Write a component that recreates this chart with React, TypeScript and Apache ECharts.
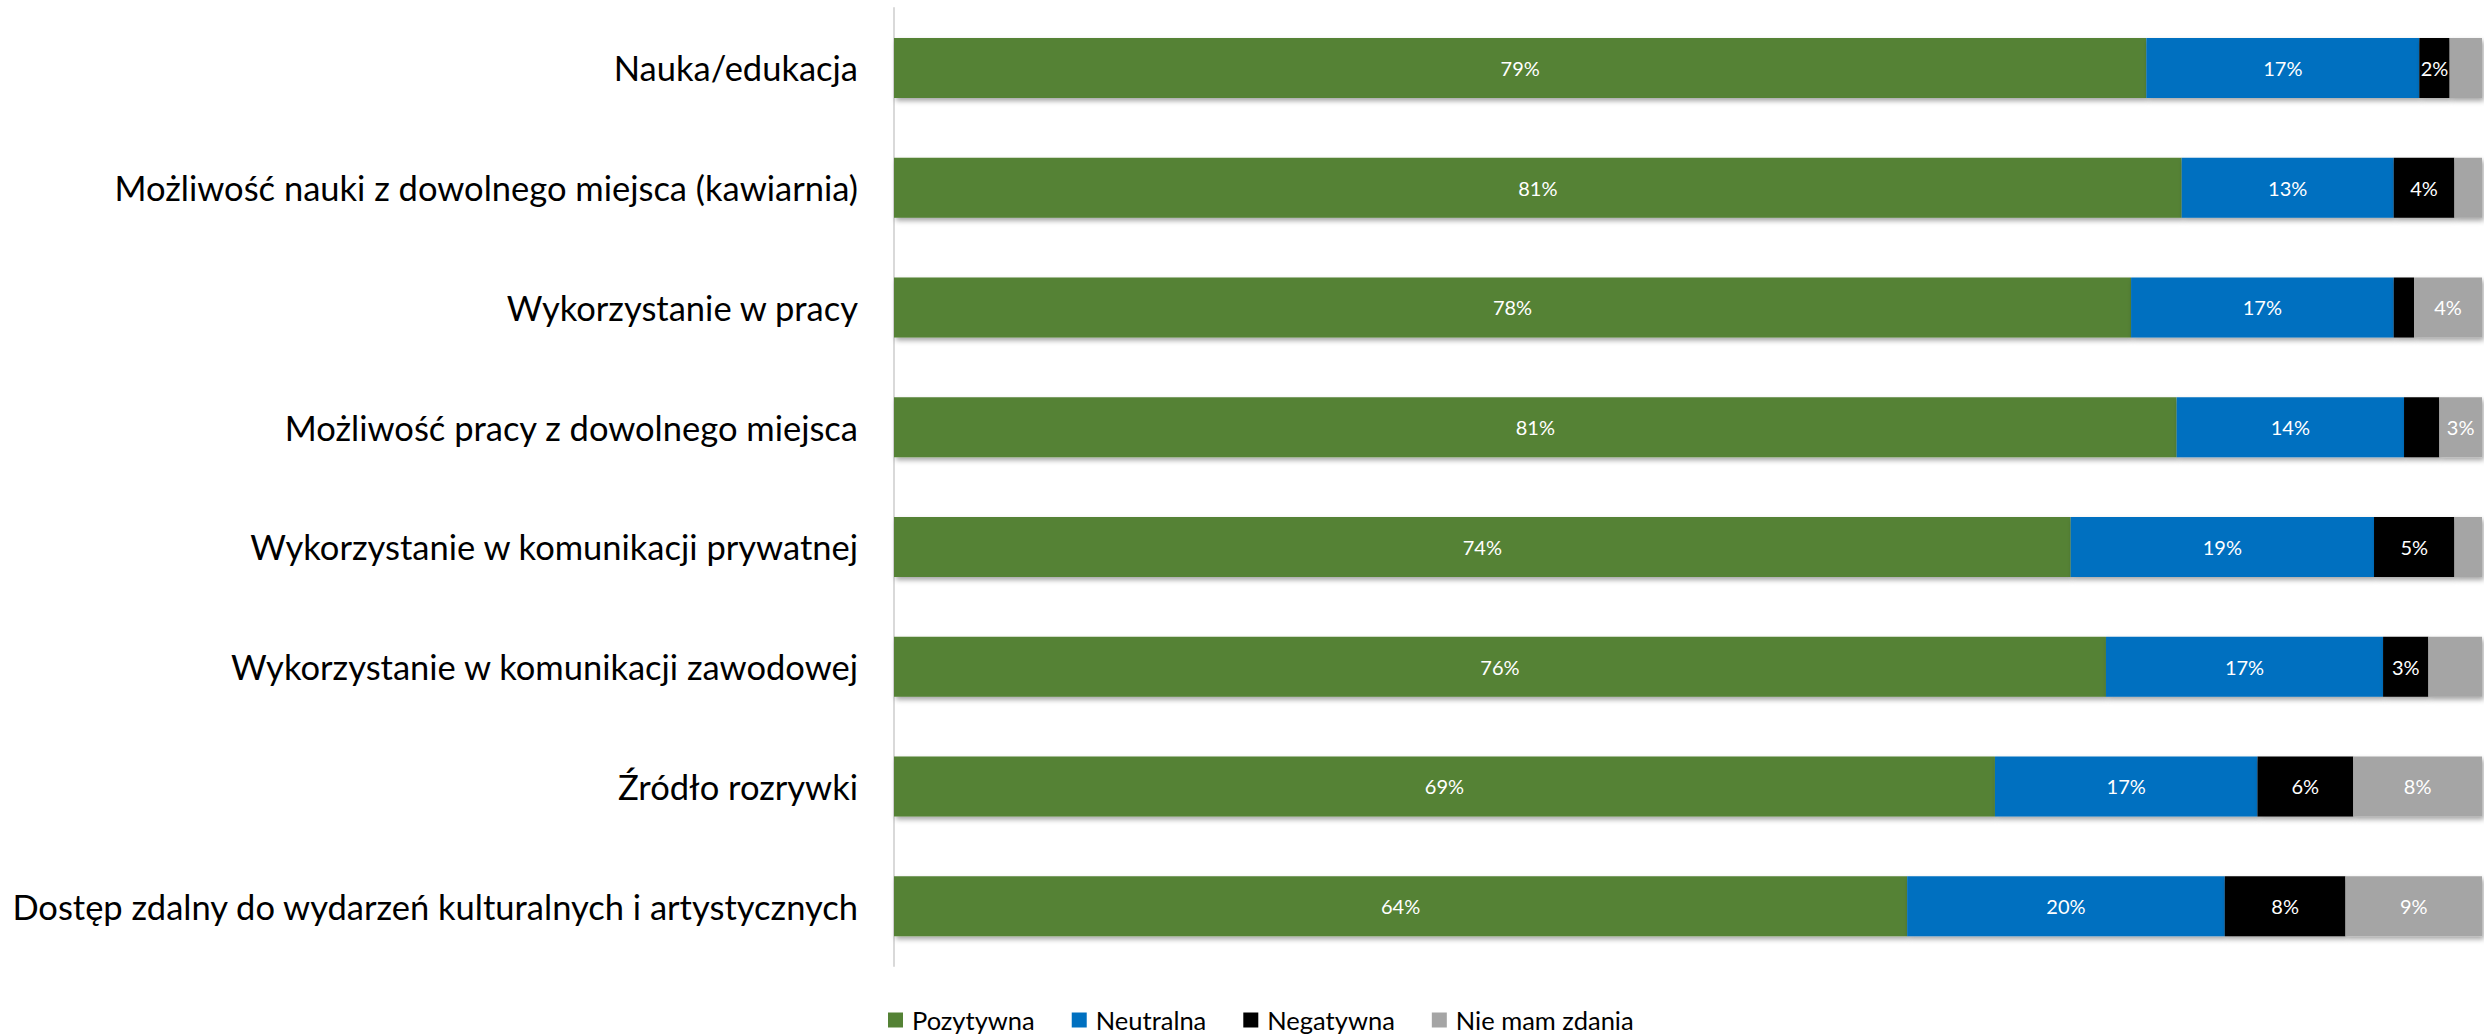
import React, { useEffect, useRef } from "react";
import * as echarts from "echarts";

const categories = [
  "Nauka/edukacja",
  "Możliwość nauki z dowolnego miejsca (kawiarnia)",
  "Wykorzystanie w pracy",
  "Możliwość pracy z dowolnego miejsca",
  "Wykorzystanie w komunikacji prywatnej",
  "Wykorzystanie w komunikacji zawodowej",
  "Źródło rozrywki",
  "Dostęp zdalny do wydarzeń kulturalnych i artystycznych",
];

const seriesNames = ["Pozytywna", "Neutralna", "Negatywna", "Nie mam zdania"];

const positive = [78.86, 81.09, 77.9, 80.77, 74.1, 76.32, 69.33, 63.8];
const neutral = [17.19, 13.35, 16.54, 14.32, 19.1, 17.45, 16.53, 20.0];
const negative = [1.91, 3.82, 1.28, 2.22, 5.06, 2.85, 6.03, 7.6];
const noOpinion = [2.04, 1.74, 4.28, 2.69, 1.74, 3.38, 8.11, 8.6];

// which data labels are visible (by category index)
const negativeLabelsShown = [0, 1, 4, 5, 6, 7];
const noOpinionLabelsShown = [2, 3, 6, 7];

const colors = ["#548235", "#0070C0", "#000000", "#A5A5A5"];

const FONT = "Lato";

export default function App() {
  const ref = useRef<HTMLDivElement>(null);

  useEffect(() => {
    if (!ref.current) return;
    const chart = echarts.init(ref.current, null, { renderer: "svg" });

    const makeData = (vals: number[], shown?: number[]) =>
      vals.map((v, i) => ({
        value: v,
        label: { show: shown ? shown.includes(i) : true },
      }));

    const allSeries = [
      makeData(positive),
      makeData(neutral),
      makeData(negative, negativeLabelsShown),
      makeData(noOpinion, noOpinionLabelsShown),
    ];

    chart.setOption({
      animation: false,
      color: colors,
      grid: { left: 894, right: 2, top: 8, bottom: 69, containLabel: false },
      xAxis: {
        type: "value",
        min: 0,
        max: 100,
        show: false,
      },
      yAxis: {
        type: "category",
        data: categories,
        inverse: true,
        axisLine: { show: true, lineStyle: { color: "#D9D9D9", width: 2 } },
        axisTick: { show: false },
        axisLabel: {
          fontFamily: FONT,
          fontSize: 34.5,
          color: "#000000",
          margin: 36,
        },
      },
      legend: {
        left: 883,
        top: 1002,
        padding: 5,
        icon: "rect",
        itemWidth: 15,
        itemHeight: 15,
        itemGap: 37,
        textStyle: {
          fontFamily: FONT,
          fontSize: 25.5,
          color: "#000000",
          padding: [0, 0, 0, 4],
        },
        data: seriesNames,
      },
      series: seriesNames.map((name, k) => ({
        name,
        type: "bar",
        stack: "total",
        barWidth: 60,
        data: allSeries[k],
        itemStyle: {
          color: colors[k],
          shadowColor: "rgba(0,0,0,0.35)",
          shadowBlur: 5,
          shadowOffsetX: 2,
          shadowOffsetY: 3,
        },
        label: {
          position: "inside",
          fontFamily: FONT,
          fontSize: 20,
          color: "#FFFFFF",
          formatter: (p: any) => Math.round(p.value) + "%",
        },
      })),
    });

    return () => chart.dispose();
  }, []);

  return (
    <div
      ref={ref}
      style={{ position: "fixed", left: 0, top: 0, width: "100vw", height: "100vh", background: "#fff" }}
    />
  );
}
